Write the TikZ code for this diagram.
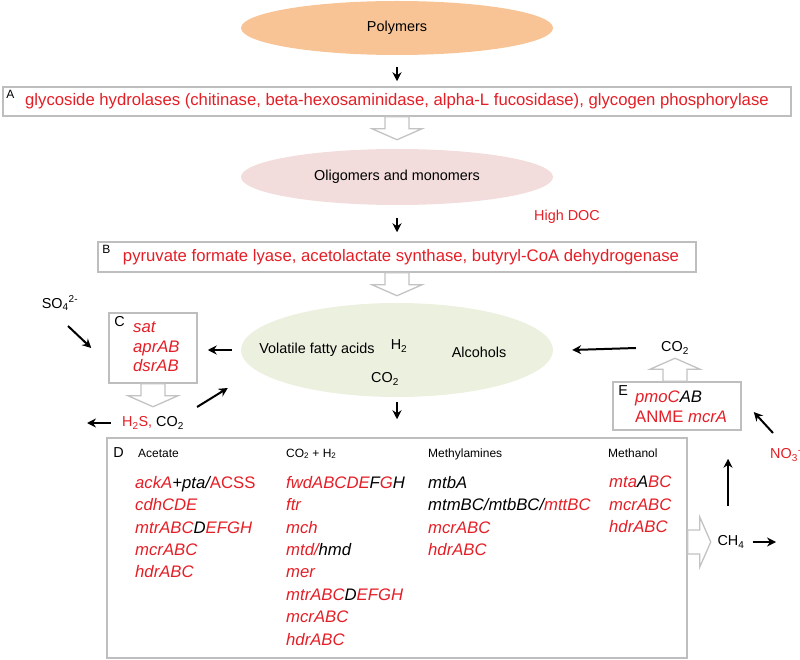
\documentclass[tikz,border=0pt]{standalone}
\usepackage{fontspec}
\setmainfont{Liberation Sans}
\usetikzlibrary{shapes.geometric,arrows.meta,calc}
\definecolor{myred}{RGB}{228,30,38}
\definecolor{peach}{RGB}{248,196,150}
\definecolor{pinkish}{RGB}{242,221,220}
\definecolor{olivelight}{RGB}{236,240,223}
\definecolor{boxgray}{RGB}{190,190,190}
\definecolor{hgray}{RGB}{195,195,195}
\newcommand\redt[1]{\textcolor{myred}{#1}}
\newcommand\fsz[2]{\fontsize{#1}{#2}\selectfont}
\begin{document}
\begin{tikzpicture}[x=1pt,y=-1pt,
  blob/.style={ellipse, inner sep=0, font=\fsz{14.4}{17}},
  boxed/.style={draw=boxgray, line width=1.5pt, inner sep=0},
  big/.style={font=\fsz{16.7}{20}, text=myred},
  small/.style={font=\fsz{12}{14}, inner sep=0},
  med/.style={font=\fsz{14.4}{17}, inner sep=0},
  genes/.style={font=\fsz{16.7}{22.4}\itshape, align=left, inner sep=0, anchor=north west},
  arr/.style={line width=2pt, -{Stealth[length=9pt,width=9pt,inset=3pt]}},
  hollow/.style={draw=hgray, fill=white, line width=1.3pt, line join=miter},
  pics/hollowarr/.style={code={\draw[hollow] (-12,0) -- (12,0) -- (12,12) -- (25,12) -- (0,23) -- (-25,12) -- (-12,12) -- cycle;}}
]
\useasboundingbox (0,0) rectangle (800,660);

% top
\node[blob, fill=peach, minimum width=312, minimum height=54] (poly) at (397,28) {Polymers};
\node[boxed, big, minimum width=788, minimum height=29] (boxA) at (397,101.5)
  {glycoside hydrolases (chitinase, beta-hexosaminidase, alpha-L fucosidase), glycogen phosphorylase};
\node[small, anchor=north west] (labA) at ($(boxA.north west)+(4,4)$) {A};
\draw[arr] ($(poly.south)+(0,12)$) -- ($(boxA.north)+(0,-5)$);
\pic at (boxA.south) {hollowarr};

\node[blob, fill=pinkish, minimum width=312, minimum height=56] (olig) at (397,177) {Oligomers and monomers};
\node[med, text=myred] (doc) at (567,217) {High DOC};
\node[boxed, big, minimum width=598, minimum height=30] (boxB) at (397,257)
  {\hspace{8pt}pyruvate formate lyase, acetolactate synthase, butyryl-CoA dehydrogenase};
\node[small, anchor=north west] (labB) at ($(boxB.north west)+(5,4)$) {B};
\draw[arr] ($(olig.south)+(0,13)$) -- ($(boxB.north)+(0,-9)$);
\pic at (boxB.south) {hollowarr};

% central ellipse
\node[blob, fill=olivelight, minimum width=312, minimum height=94] (vfa) at (397,350) {};
\node[med] (vfat) at (317,350) {Volatile fatty acids};
\node[med] (h2) at (399,346) {H\textsubscript{2}};
\node[med] (alc) at (479,352) {Alcohols};
\node[med] (co2m) at (385,379) {CO\textsubscript{2}};

% box C
\node[boxed, minimum width=88, minimum height=70] (boxC) at (153,348) {};
\node[med, anchor=north west] (labC) at ($(boxC.north west)+(6,4)$) {C};
\node[genes, font=\fsz{16.7}{19.5}\itshape, text=myred] (cgenes) at (133,322) {sat\\aprAB\\dsrAB};
\node[med] (so4) at (60,303) {SO\textsubscript{4}\textsuperscript{2-}};
\node[med] (h2s) at (153,423) {\redt{H\textsubscript{2}S,} CO\textsubscript{2}};
\coordinate (h2sout) at (87,423);
\draw[arr] ($(vfa.west)+(-9,0)$) -- ($(boxC.east |- vfa.west)+(10,0)$);
\draw[arr] ($(so4)+(8,23)$) -- ($(boxC.west)+(-17,0)$);
\pic at (boxC.south) {hollowarr};
\draw[arr] ($(h2s.west)+(-11,0)$) -- (h2sout);
\draw[arr] ($(h2s.east)+(13,-16)$) -- ($(vfa.west)+(-13,38)$);

% box D
\node[boxed, minimum width=580, minimum height=220] (boxD) at (397,548) {};
\node[med, anchor=north west] (labD) at ($(boxD.north west)+(7,10)$) {D};
\draw[arr] ($(vfa.south)+(0,5)$) -- ($(boxD.north)+(0,-18)$);
\node[small, anchor=base west] (hac) at (138,457) {Acetate};
\node[small, anchor=base west] (hco) at (286,457) {CO\textsubscript{2} + H\textsubscript{2}};
\node[small, anchor=base west] (hma) at (428,457) {Methylamines};
\node[small, anchor=base west] (hme) at (608,457) {Methanol};
\node[genes] (gac) at (135,476)
  {\redt{ackA}+pta/\redt{\upshape ACSS}\\\redt{cdhCDE}\\\redt{mtrABC}D\redt{EFGH}\\\redt{mcrABC}\\\redt{hdrABC}};
\node[genes] (gco) at (286,476)
  {\redt{fwdABCDE}F\redt{G}H\\\redt{ftr}\\\redt{mch}\\\redt{mtd/}hmd\\\redt{mer}\\\redt{mtrABC}D\redt{EFGH}\\\redt{mcrABC}\\\redt{hdrABC}};
\node[genes] (gma) at (428,476)
  {mtbA\\mtmBC/mtbBC/\redt{mttBC}\\\redt{mcrABC}\\\redt{hdrABC}};
\node[genes] (gme) at (609,476)
  {\redt{mta}A\redt{BC}\\\redt{mcrABC}\\\redt{hdrABC}};

% methane and box E
\node[med] (ch4) at (731,542) {CH\textsubscript{4}};
\coordinate (ch4out) at (776,542);
\pic[rotate=90] at (boxD.east |- ch4.west) {hollowarr};
\draw[arr] ($(ch4.east)+(8,0)$) -- (ch4out);

\node[boxed, minimum width=128, minimum height=48] (boxE) at (677,406) {};
\node[med, anchor=north west] (labE) at ($(boxE.north west)+(6,4)$) {E};
\node[genes, font=\fsz{16.7}{20}\itshape, text=myred] (egenes) at (635,391)
  {pmoC\textcolor{black}{AB}\\{\upshape ANME} mcrA};
\draw[arr] ($(ch4.north)+(-3,-30)$) -- ($(boxE.south)+(51,28)$);

\node[med, text=myred, anchor=west] (no3) at (770,455) {NO\textsubscript{3}\textsuperscript{-}};
\draw[arr] ($(no3.west)+(3,-22)$) -- ($(boxE.east)+(12,6)$);

\node[med] (co2r) at (675,348) {CO\textsubscript{2}};
\pic[rotate=180] at (boxE.north -| co2r) {hollowarr};
\draw[arr] ($(co2r.west)+(-25,0)$) -- ($(vfa.east)+(19,0)$);
\end{tikzpicture}
\end{document}
